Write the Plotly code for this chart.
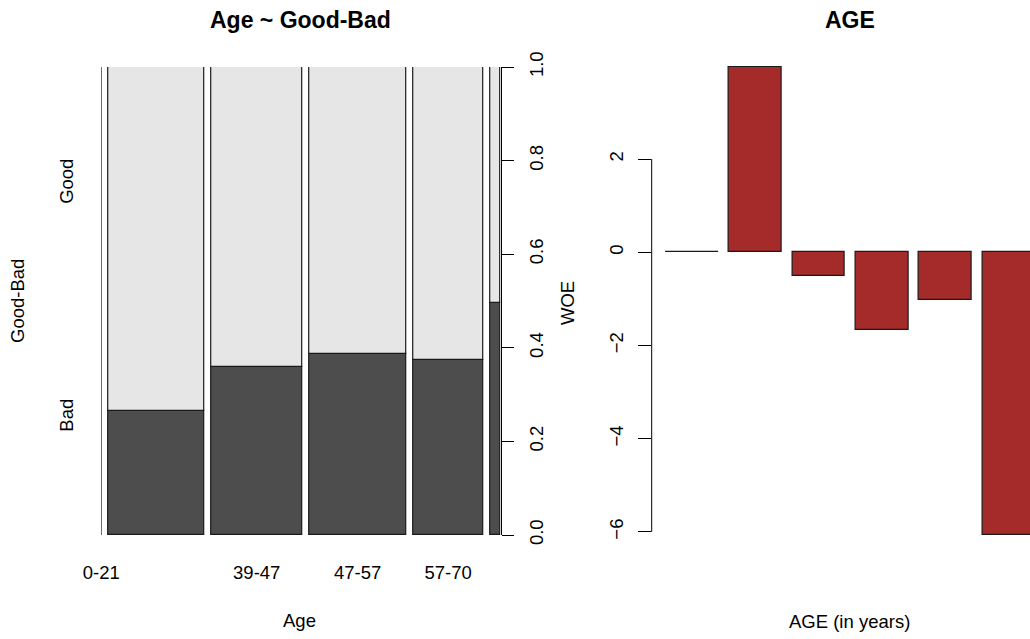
import plotly.graph_objects as go

# ---- data ---------------------------------------------------------------
age_bins = ["0-21", "21-39", "39-47", "47-57", "57-70", "70+"]
age_tick_labels = ["0-21", "", "39-47", "47-57", "57-70", ""]   # overlapping labels are dropped
bin_share = [0.0, 0.2636, 0.2490, 0.2667, 0.1920, 0.0288]        # share of customers per age bin
bad_rate = [0.5, 0.266, 0.360, 0.387, 0.373, 0.496]              # share of "Bad" within each bin
woe = [0.0, 3.97, -0.50, -1.66, -1.03, -6.07]                    # weight of evidence per bin

spine_ticks = [0.0, 0.2, 0.4, 0.6, 0.8, 1.0]
woe_ticks = [-6, -4, -2, 0, 2]

# ---- page geometry (pixels) ---------------------------------------------
W, H = 1030, 639
FONT = "Liberation Sans, Arial, sans-serif"
DARK, LIGHT, EDGE = "#4D4D4D", "#E6E6E6", "#1A1A1A"
BROWN = "#A52A2A"
FS = 18.5


def px(x):
    return x / W


def py(y):
    return 1 - y / H


# ---- spineplot layout: bins laid side by side with a 2 % gap ------------
off = 0.02
lefts, x = [], 0.0
for s in bin_share:
    lefts.append(x)
    x += s + off
spine_max = sum(bin_share) + off * (len(bin_share) - 1)
centers = [l + s / 2 for l, s in zip(lefts, bin_share)]

fig = go.Figure()

bar_idx = [i for i, s in enumerate(bin_share) if s > 0]
fig.add_trace(go.Bar(
    x=[centers[i] for i in bar_idx], width=[bin_share[i] for i in bar_idx],
    y=[bad_rate[i] for i in bar_idx], base=0,
    marker=dict(color=DARK, line=dict(color=EDGE, width=1.2)),
    xaxis="x", yaxis="y", name="Bad", showlegend=False, hoverinfo="skip"))
fig.add_trace(go.Bar(
    x=[centers[i] for i in bar_idx], width=[bin_share[i] for i in bar_idx],
    y=[1 - bad_rate[i] for i in bar_idx], base=[bad_rate[i] for i in bar_idx],
    marker=dict(color=LIGHT, line=dict(color=EDGE, width=1.2)),
    xaxis="x", yaxis="y", name="Good", showlegend=False, hoverinfo="skip"))
# empty bins collapse to a single vertical edge (drawn on the 0-1 scale axis)
for i, s in enumerate(bin_share):
    if s == 0:
        fig.add_trace(go.Scatter(
            x=[centers[i], centers[i]], y=[0, 1], mode="lines",
            line=dict(color=EDGE, width=1.2), cliponaxis=False,
            xaxis="x", yaxis="y3", showlegend=False, hoverinfo="skip"))

# ---- WOE bar chart (barplot positions: width 1, space 0.2) --------------
woe_x = [0.7 + 1.2 * i for i in range(len(woe))]
fig.add_trace(go.Bar(
    x=woe_x, y=woe, width=1.0,
    marker=dict(color=BROWN, line=dict(color=EDGE, width=1.2)),
    xaxis="x2", yaxis="y2", showlegend=False, hoverinfo="skip"))

# ---- axes ----------------------------------------------------------------
left_dom_y = [py(535), py(67)]
right_dom_y = [py(536), py(66)]
zero_px, unit_py = 252.3, 46.6
x0_px, unit_px = 655.0, 52.83

fig.update_layout(
    width=W, height=H, margin=dict(l=0, r=0, t=0, b=0, autoexpand=False),
    paper_bgcolor="white", plot_bgcolor="white",
    barmode="overlay", bargap=0,
    font=dict(family=FONT, size=FS, color="#000000"),
    xaxis=dict(domain=[px(101.3), px(500.7)], range=[0, spine_max],
               tickmode="array", tickvals=centers, ticktext=age_tick_labels,
               ticks="", showgrid=False, zeroline=False, showline=False,
               automargin=False, ticklabelstandoff=24, tickfont=dict(size=FS)),
    yaxis=dict(domain=left_dom_y, range=[0, 1], anchor="x",
               tickmode="array", tickvals=[0.25, 0.75], ticktext=["Bad", "Good"],
               tickangle=-90, ticks="", showgrid=False, zeroline=False,
               showline=False, automargin=False, ticklabelstandoff=24,
               tickfont=dict(size=FS)),
    yaxis3=dict(overlaying="y", side="right", anchor="x", range=[0, 1],
                tickmode="array", tickvals=spine_ticks,
                ticktext=[f"{v:.1f}" for v in spine_ticks],
                tickangle=-90, ticks="outside", ticklen=12, tickwidth=1,
                tickcolor="#000000", showline=True, linecolor="#000000",
                linewidth=1, showgrid=False, zeroline=False, automargin=False,
                ticklabelstandoff=7, tickfont=dict(size=FS)),
    xaxis2=dict(domain=[px(651.7), 1.0],
                range=[(651.7 - x0_px) / unit_px, (W - x0_px) / unit_px],
                showticklabels=False, ticks="", showgrid=False,
                zeroline=False, showline=False, anchor="y2", automargin=False),
    yaxis2=dict(domain=right_dom_y,
                range=[(zero_px - 536) / unit_py, (zero_px - 66) / unit_py],
                anchor="x2", tickmode="array", tickvals=woe_ticks,
                tickangle=-90, ticks="outside", ticklen=13, tickwidth=1,
                tickcolor="#000000", showline=False, showgrid=False,
                zeroline=False, automargin=False, ticklabelstandoff=7,
                tickfont=dict(size=FS)),
)

# barplot axis line only spans the tick range
fig.add_shape(type="line", xref="x2 domain", yref="y2",
              x0=0, x1=0, y0=min(woe_ticks), y1=max(woe_ticks),
              line=dict(color="#000000", width=1))

# ---- titles and axis labels ---------------------------------------------
notes = [
    dict(text="<b>Age ~ Good-Bad</b>", x=px(300), y=py(20), size=23, angle=0),
    dict(text="<b>AGE</b>", x=px(850), y=py(20), size=23, angle=0),
    dict(text="Age", x=px(299), y=py(620), size=FS, angle=0),
    dict(text="AGE (in years)", x=px(849), y=py(621), size=FS, angle=0),
    dict(text="Good-Bad", x=px(17), y=py(301), size=FS, angle=-90),
    dict(text="WOE", x=px(567), y=py(303), size=FS, angle=-90),
]
for n in notes:
    fig.add_annotation(text=n["text"], x=n["x"], y=n["y"], xref="paper",
                       yref="paper", xanchor="center", yanchor="middle",
                       showarrow=False, textangle=n["angle"],
                       font=dict(family=FONT, size=n["size"], color="#000000"))

fig.write_html("out.html")
